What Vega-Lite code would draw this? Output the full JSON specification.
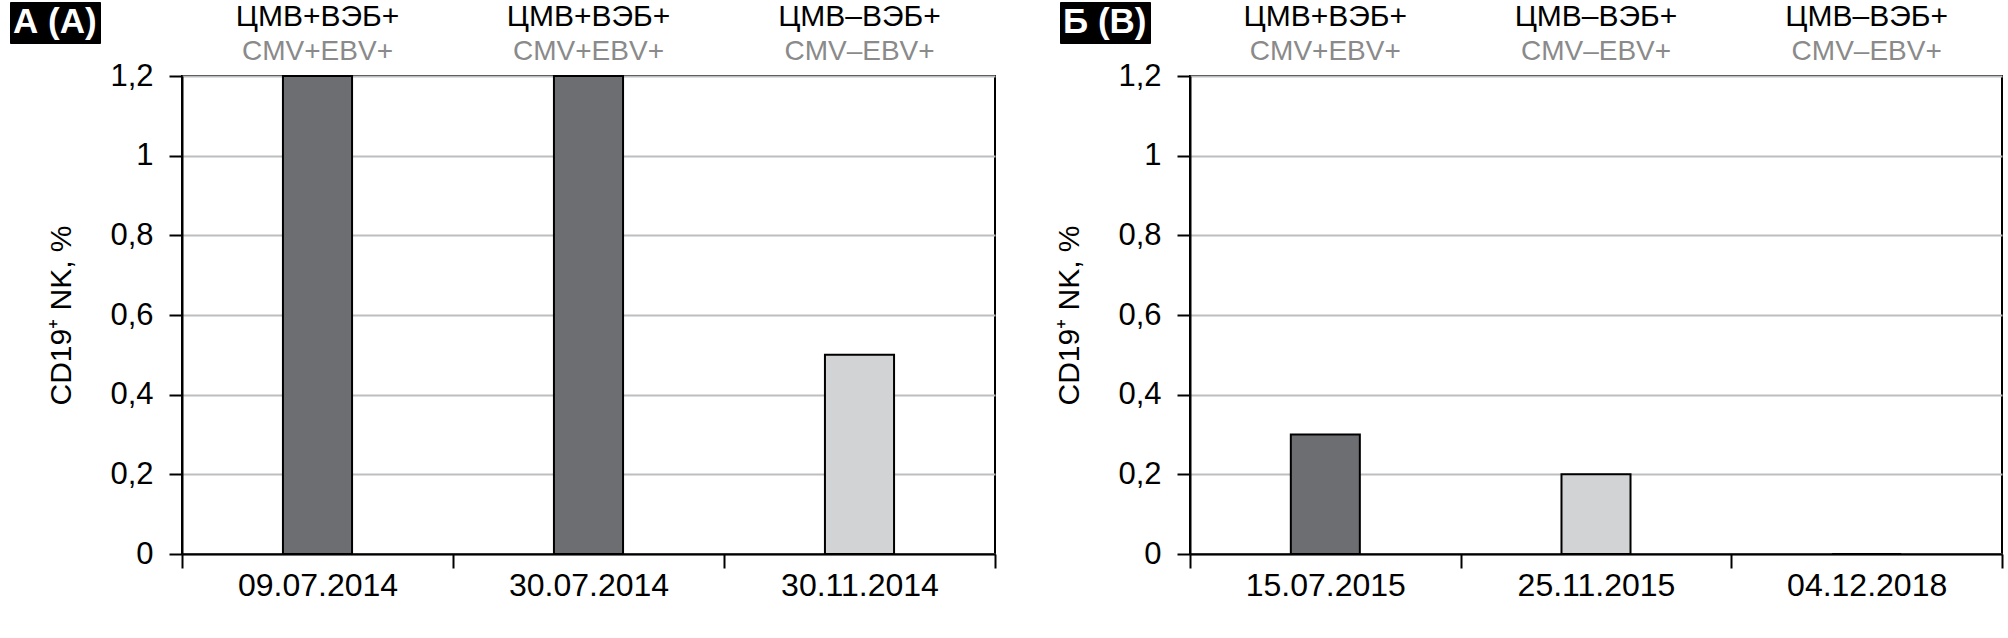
{
  "$schema": "https://vega.github.io/schema/vega-lite/v6.json",
  "padding": {"left": 8, "top": 0, "right": 0, "bottom": 0},
  "background": "white",
  "config": {
    "font": "Liberation Sans",
    "view": {"stroke": "black", "strokeWidth": 2},
    "axis": {"labelFont": "Liberation Sans", "labelColor": "black", "domainColor": "black", "domainWidth": 2, "tickColor": "black", "tickWidth": 2, "gridColor": "#bcbec0", "gridWidth": 2, "titleFont": "Liberation Sans", "titleColor": "black"},
    "concat": {"spacing": 56}
  },
  "datasets": {
    "a": [
      {"date": "09.07.2014", "value": 1.2, "ru": "ЦМВ+ВЭБ+", "en": "CMV+EBV+"},
      {"date": "30.07.2014", "value": 1.2, "ru": "ЦМВ+ВЭБ+", "en": "CMV+EBV+"},
      {"date": "30.11.2014", "value": 0.5, "ru": "ЦМВ–ВЭБ+", "en": "CMV–EBV+"}
    ],
    "b": [
      {"date": "15.07.2015", "value": 0.3, "ru": "ЦМВ+ВЭБ+", "en": "CMV+EBV+"},
      {"date": "25.11.2015", "value": 0.2, "ru": "ЦМВ–ВЭБ+", "en": "CMV–EBV+"},
      {"date": "04.12.2018", "value": 0, "ru": "ЦМВ–ВЭБ+", "en": "CMV–EBV+"}
    ]
  },
  "resolve": {"scale": {"color": "independent", "x": "independent", "y": "independent"}, "legend": {"color": "independent"}},
  "hconcat": [
    {
      "width": 813,
      "height": 478,
      "data": {"name": "a"},
      "encoding": {
        "x": {"field": "date", "type": "nominal", "sort": null, "scale": {"paddingInner": 0, "paddingOuter": 0}, "axis": {"title": null, "labelAngle": 0, "labelFontSize": 32, "tickBand": "extent", "tickSize": 14, "labelPadding": 2, "grid": false}},
        "y": {"field": "value", "type": "quantitative", "scale": {"domain": [0, 1.2], "nice": false}, "axis": {"title": "CD19⁺ NK, %", "titleFontSize": 30, "titleFontWeight": "normal", "titlePadding": 33, "values": [0, 0.2, 0.4, 0.6, 0.8, 1, 1.2], "labelExpr": "replace(format(datum.value, '~g'), '.', ',')", "labelFontSize": 31, "tickSize": 13, "labelPadding": 16, "grid": true}}
      },
      "layer": [
        {
          "mark": {"type": "bar", "stroke": "black", "strokeWidth": 2, "width": {"band": 0.255}},
          "encoding": {
            "color": {"field": "en", "type": "nominal", "scale": {"domain": ["CMV+EBV+", "CMV–EBV+"], "range": ["#6d6e71", "#d1d3d4"]},
              "legend": {"title": " А (A) ", "values": [], "orient": "none", "legendX": -172, "legendY": -74, "fillColor": "black", "strokeColor": "black", "titleColor": "white", "titleFontSize": 35, "titleFontWeight": "bold", "titleFont": "Liberation Sans", "padding": 3, "titlePadding": 0}}
          }
        },
        {
          "mark": {"type": "text", "fontSize": 30, "color": "black", "baseline": "alphabetic", "dy": -50},
          "encoding": {"y": {"datum": 1.2}, "text": {"field": "ru"}}
        },
        {
          "mark": {"type": "text", "fontSize": 28, "color": "#8a8a8a", "baseline": "alphabetic", "dy": -16},
          "encoding": {"y": {"datum": 1.2}, "text": {"field": "en"}}
        }
      ]
    },
    {
      "width": 812,
      "height": 478,
      "data": {"name": "b"},
      "encoding": {
        "x": {"field": "date", "type": "nominal", "sort": null, "scale": {"paddingInner": 0, "paddingOuter": 0}, "axis": {"title": null, "labelAngle": 0, "labelFontSize": 32, "tickBand": "extent", "tickSize": 14, "labelPadding": 2, "grid": false}},
        "y": {"field": "value", "type": "quantitative", "scale": {"domain": [0, 1.2], "nice": false}, "axis": {"title": "CD19⁺ NK, %", "titleFontSize": 30, "titleFontWeight": "normal", "titlePadding": 33, "values": [0, 0.2, 0.4, 0.6, 0.8, 1, 1.2], "labelExpr": "replace(format(datum.value, '~g'), '.', ',')", "labelFontSize": 31, "tickSize": 13, "labelPadding": 16, "grid": true}}
      },
      "layer": [
        {
          "mark": {"type": "bar", "stroke": "black", "strokeWidth": 2, "width": {"band": 0.255}},
          "encoding": {
            "color": {"field": "en", "type": "nominal", "scale": {"domain": ["CMV+EBV+", "CMV–EBV+"], "range": ["#6d6e71", "#d1d3d4"]},
              "legend": {"title": " Б (B) ", "values": [], "orient": "none", "legendX": -130, "legendY": -74, "fillColor": "black", "strokeColor": "black", "titleColor": "white", "titleFontSize": 35, "titleFontWeight": "bold", "titleFont": "Liberation Sans", "padding": 3, "titlePadding": 0}}
          }
        },
        {
          "mark": {"type": "text", "fontSize": 30, "color": "black", "baseline": "alphabetic", "dy": -50},
          "encoding": {"y": {"datum": 1.2}, "text": {"field": "ru"}}
        },
        {
          "mark": {"type": "text", "fontSize": 28, "color": "#8a8a8a", "baseline": "alphabetic", "dy": -16},
          "encoding": {"y": {"datum": 1.2}, "text": {"field": "en"}}
        }
      ]
    }
  ]
}
